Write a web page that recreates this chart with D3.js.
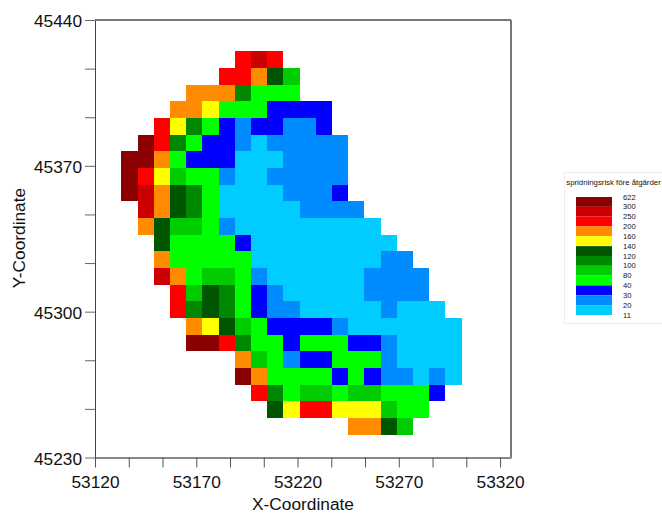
<!DOCTYPE html>
<html>
<head>
<meta charset="utf-8">
<script src="https://cdn.jsdelivr.net/npm/d3@7"></script>
<style>
  html, body { margin: 0; padding: 0; background: #fff; }
  text { font-family: "Liberation Sans", Arial, sans-serif; fill: #111; }
</style>
</head>
<body>
<script>
// legend class limits, low to high, and the colour of each band between them
const levels = [11, 20, 30, 40, 80, 100, 120, 140, 160, 200, 250, 300, 622];
const bandColors = ["#00ccff", "#008cff", "#0000ff", "#00ff00", "#00cc00", "#008800",
  "#005500", "#ffff00", "#ff8c00", "#ff0000", "#cc0000", "#8b0000"];

const xLabels = [53120, 53170, 53220, 53270, 53320];
const yLabels = [45230, 45300, 45370, 45440];

// grid cells, 8 x 8 units
const cellSize = 8;
const gridX0 = 53133;
const gridYTop = 45425;
const rowStart = [7, 6, 4, 3, 2, 1, 0, 0, 0, 1, 1, 2, 2, 2, 3, 3, 4, 4, 7, 7, 8, 9, 14];
const rowValues = [
  [225, 275, 225],
  [225, 225, 180, 130, 90],
  [180, 180, 180, 110, 60, 60, 60],
  [180, 180, 150, 60, 60, 60, 35, 35, 35, 35],
  [225, 150, 110, 60, 35, 25, 35, 35, 25, 25, 35],
  [400, 225, 110, 60, 35, 35, 25, 15, 25, 25, 25, 25, 25],
  [400, 400, 180, 60, 35, 35, 35, 15, 15, 15, 25, 25, 25, 25],
  [400, 225, 150, 90, 60, 60, 25, 15, 15, 25, 25, 25, 25, 25],
  [400, 275, 180, 130, 110, 60, 15, 15, 15, 15, 25, 25, 25, 35],
  [275, 180, 130, 110, 60, 15, 15, 15, 15, 15, 25, 25, 25, 25],
  [180, 130, 90, 90, 60, 25, 15, 15, 15, 15, 15, 15, 15, 15, 15],
  [130, 60, 60, 60, 60, 35, 15, 15, 15, 15, 15, 15, 15, 15, 15],
  [180, 60, 60, 60, 60, 60, 15, 15, 15, 15, 15, 15, 15, 15, 25, 25],
  [275, 180, 60, 90, 90, 60, 25, 15, 15, 15, 15, 15, 15, 25, 25, 25, 25],
  [225, 90, 130, 110, 60, 35, 25, 15, 15, 15, 15, 15, 25, 25, 25, 25],
  [225, 110, 130, 110, 60, 35, 25, 25, 15, 15, 15, 15, 15, 25, 15, 15, 15],
  [180, 150, 130, 90, 60, 35, 35, 35, 35, 25, 15, 15, 15, 15, 15, 15, 15],
  [400, 400, 225, 110, 60, 60, 35, 60, 60, 60, 35, 35, 25, 15, 15, 15, 15],
  [180, 90, 60, 25, 35, 35, 60, 60, 60, 25, 15, 15, 15, 15],
  [400, 180, 60, 60, 60, 60, 35, 60, 35, 25, 25, 15, 25, 15],
  [225, 110, 60, 90, 90, 60, 90, 90, 60, 60, 60, 35],
  [130, 150, 225, 225, 150, 150, 150, 90, 60, 60],
  [180, 180, 130, 90]
];

const svg = d3.select("body").append("svg")
  .attr("width", 662)
  .attr("height", 514)
  .style("display", "block");

const x = d3.scaleLinear().domain([53120, 53325.4]).range([95, 511]);
const y = d3.scaleLinear().domain([45230, 45440]).range([457.5, 20]);
const color = d3.scaleThreshold().domain(levels.slice(1, -1)).range(bandColors);

// cells
const cells = rowValues.flatMap((row, r) => row.map((v, c) => ({
  x: gridX0 + (rowStart[r] + c) * cellSize,
  y: gridYTop - r * cellSize,
  v: v
})));

svg.append("g")
  .selectAll("rect")
  .data(cells)
  .join("rect")
  .attr("x", d => x(d.x))
  .attr("y", d => y(d.y))
  .attr("width", d => x(d.x + cellSize) - x(d.x))
  .attr("height", d => y(d.y - cellSize) - y(d.y))
  .attr("fill", d => color(d.v))
  .attr("shape-rendering", "crispEdges");

// axes: three tick steps between every labelled value
const xTicks = d3.range(13).map(i => xLabels[0] + i * (xLabels[1] - xLabels[0]) / 3);
const yTicks = d3.range(10).map(i => yLabels[0] + i * (yLabels[1] - yLabels[0]) / 3);

const xAxis = d3.axisBottom(x)
  .tickValues(xTicks)
  .tickSize(10)
  .tickSizeOuter(0)
  .tickPadding(8)
  .tickFormat((d, i) => i % 3 ? "" : d);

const yAxis = d3.axisLeft(y)
  .tickValues(yTicks)
  .tickSize(10)
  .tickSizeOuter(0)
  .tickPadding(3)
  .tickFormat((d, i) => i % 3 ? "" : d);

const gx = svg.append("g").attr("transform", "translate(0,457.5)").call(xAxis);
const gy = svg.append("g").attr("transform", "translate(95,0)").call(yAxis);

gx.selectAll("line").attr("stroke", "#555");
gy.selectAll("line").attr("stroke", "#666");
gx.select(".domain").attr("stroke", "#111");
gy.select(".domain").attr("stroke", "#444");
svg.selectAll(".tick text")
  .attr("font-size", 17.3)
  .attr("font-family", "Liberation Sans")
  .attr("fill", "#111");
gy.selectAll(".tick text").attr("dy", "0.4em");

// top and right frame
svg.append("line")
  .attr("x1", x.range()[0]).attr("x2", x.range()[1])
  .attr("y1", y.range()[1]).attr("y2", y.range()[1])
  .attr("stroke", "#777").attr("stroke-width", 2);
svg.append("line")
  .attr("x1", x.range()[1]).attr("x2", x.range()[1])
  .attr("y1", y.range()[1]).attr("y2", y.range()[0])
  .attr("stroke", "#777").attr("stroke-width", 2);

svg.append("text")
  .attr("x", 303)
  .attr("y", 510)
  .attr("text-anchor", "middle")
  .attr("font-size", 17.3)
  .text("X-Coordinate");

svg.append("text")
  .attr("transform", "translate(25,238) rotate(-90)")
  .attr("text-anchor", "middle")
  .attr("font-size", 17.3)
  .text("Y-Coordinate");

// legend
const legend = svg.append("g");
const legendY = d3.scaleLinear().domain([0, levels.length - 1]).range([197, 315]);
const legendLabels = levels.slice().reverse();
const legendColors = bandColors.slice().reverse();

legend.append("rect")
  .attr("x", 564.5).attr("y", 172.5)
  .attr("width", 98).attr("height", 151)
  .attr("fill", "#fff")
  .attr("stroke", "#eeeeee");

legend.append("text")
  .attr("x", 613.5)
  .attr("y", 184.5)
  .attr("text-anchor", "middle")
  .attr("font-size", 7.8)
  .text("spridningsrisk före åtgärder");

legend.selectAll("rect.band")
  .data(legendColors)
  .join("rect")
  .attr("class", "band")
  .attr("x", 576)
  .attr("y", (d, i) => legendY(i))
  .attr("width", 36)
  .attr("height", (d, i) => legendY(i + 1) - legendY(i))
  .attr("fill", d => d);

legend.selectAll("text.lab")
  .data(legendLabels)
  .join("text")
  .attr("class", "lab")
  .attr("x", 623)
  .attr("y", (d, i) => legendY(i))
  .attr("dy", "0.35em")
  .attr("font-size", 7.6)
  .text(d => d);
</script>
</body>
</html>
